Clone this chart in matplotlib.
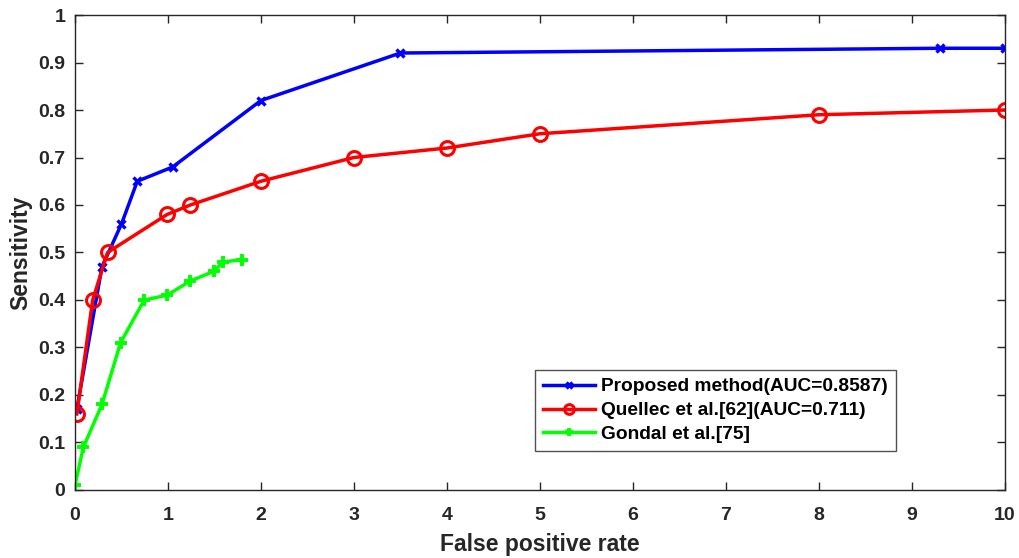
import numpy as np
import matplotlib

matplotlib.use("Agg")
import matplotlib.pyplot as plt

# proposed method
prop_fpr = [0.02, 0.29, 0.5, 0.67, 1.05, 2.0, 3.5, 9.3, 10.0]
prop_sens = [0.17, 0.47, 0.56, 0.65, 0.68, 0.82, 0.92, 0.93, 0.93]

# Quellec et al.
quel_fpr = [0.02, 0.19, 0.35, 0.99, 1.24, 2.0, 3.0, 4.0, 5.0, 8.0, 10.0]
quel_sens = [0.16, 0.40, 0.50, 0.58, 0.60, 0.65, 0.70, 0.72, 0.75, 0.79, 0.80]

# Gondal et al.
gond_fpr = [0.0, 0.09, 0.29, 0.49, 0.745, 0.99, 1.24, 1.49, 1.59, 1.80]
gond_sens = [0.01, 0.09, 0.18, 0.31, 0.40, 0.41, 0.44, 0.46, 0.48, 0.485]

xticks = np.arange(0, 11, 1)
yticks = np.round(np.arange(0, 1.01, 0.1), 1)
ytick_labels = ["0"] + ["%.1f" % v for v in yticks[1:-1]] + ["1"]

plt.rcParams["font.family"] = ["Liberation Sans", "DejaVu Sans"]
plt.rcParams["font.weight"] = "bold"

fig = plt.figure(figsize=(10.19, 5.58), dpi=100)
ax = fig.add_axes([0.0736, 0.1219, 0.9124, 0.8512])

ax.plot(prop_fpr, prop_sens, color=(0, 0, 1), lw=2.5, marker="x",
        ms=6, mew=2.4, label="Proposed method(AUC=0.8587)")
ax.plot(quel_fpr, quel_sens, color=(1, 0, 0), lw=2.5, marker="o",
        ms=10, mew=2.2, mfc="none", label="Quellec et al.[62](AUC=0.711)")
ax.plot(gond_fpr, gond_sens, color=(0, 1, 0), lw=2.5, marker="+",
        ms=9, mew=2.8, label="Gondal et al.[75]")

ax.set_xlim(0, 10)
ax.set_ylim(0, 1)
ax.set_xticks(xticks)
ax.set_xticklabels([str(v) for v in xticks])
ax.set_yticks(yticks)
ax.set_yticklabels(ytick_labels)
ax.tick_params(direction="in", length=6, width=1, labelsize=14,
               top=True, right=True, colors="#262626")
ax.tick_params(axis="x", pad=12)
ax.tick_params(axis="y", pad=7)
for s in ax.spines.values():
    s.set_linewidth(1)
    s.set_color("#262626")

ax.set_xlabel("False positive rate", fontsize=16.5, fontweight="bold",
              color="#262626", labelpad=7)
ax.set_ylabel("Sensitivity", fontsize=16.5, fontweight="bold",
              color="#262626", labelpad=4)

leg = ax.legend(loc="lower left", bbox_to_anchor=(0.4946, 0.082),
                borderaxespad=0, fontsize=13.8, frameon=True, fancybox=False,
                edgecolor="#262626", handlelength=2.7, borderpad=0.42,
                labelspacing=0.33, handletextpad=0.35, markerscale=0.7)
leg.get_frame().set_linewidth(1)
for t in leg.get_texts():
    t.set_fontweight("bold")

fig.savefig("out.png", dpi=100)
